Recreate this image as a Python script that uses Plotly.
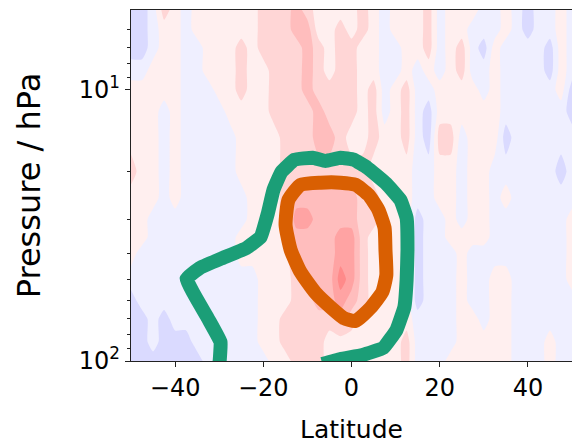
import math
import plotly.graph_objects as go

# ---------------- data ----------------
# latitude grid of the shaded field (degrees)
lats = [-50, -47.5, -45, -42.5, -40, -37.5, -35, -32.5, -30, -27.5, -25, -22.5,
        -20, -17.5, -15, -12.5, -10, -7.5, -5, -2.5, 0, 2.5, 5, 7.5, 10, 12.5,
        15, 17.5, 20, 22.5, 25, 27.5, 30, 32.5, 35, 37.5, 40, 42.5, 45, 47.5, 50]
# pressure grid (hPa), top to bottom
pressures = [5.08, 6, 7, 8.5, 10, 12, 15, 20, 25, 30, 35, 40, 50, 60, 70, 85, 100]

# shading class at each grid point, one string per latitude (top -> bottom)
code_values = {"B": -1.5, "b": -0.5, "p": 0.5, "2": 1.5, "3": 2.5, "4": 3.5, "5": 4.5}
profiles = [
    "BBBbppp2ppppbBBBB",  # -50
    "BBBbpppppppbbbBBB",  # -47.5
    "bbbppppppbbbbbbbB",  # -45
    "2ppppbbbbbbbbbBBB",  # -42.5
    "pppppppppbbbbbbBB",  # -40
    "bbbbbbbbbbbbbbbBB",  # -37.5
    "ppbbbbbbbbbbbbbbB",  # -35
    "ppppbbbbbbbbbbbbb",  # -32.5
    "pppppbbbbbbbbbbbb",  # -30
    "ppppppbbbbbbbbbbb",  # -27.5
    "pp222pppbbppbbbbb",  # -25
    "ppppppppppppbbbbb",  # -22.5
    "222pppppppppppppb",  # -20
    "222222ppppppppppp",  # -17.5
    "2222222222pppp22p",  # -15
    "33222222343322222",  # -12.5
    "23333222343332222",  # -10
    "pp222332333333222",  # -7.5
    "pppp22323333332pp",  # -5
    "p22222223344543pp",  # -2.5
    "pp2222p23344432pp",  # 0
    "22ppppp2222222ppp",  # 2.5
    "pppp222p22ppppppp",  # 5
    "bbbbbbppppppppppp",  # 7.5
    "ppbbppppppppppppp",  # 10
    "pppp222pppppppp22",  # 12.5
    "pppbbbbbbBBBBBbbb",  # 15
    "222pbBBbbbbbbbbbb",  # 17.5
    "bbbbpp2ppbbbbbbbb",  # 20
    "pppppp2ppppbbbbbp",  # 22.5
    "pp22ppbbbbppppppp",  # 25
    "pbbbpppppppbbbppp",  # 27.5
    "bbBbbppppppbbbbpp",  # 30
    "bbpppppbbbbbppppp",  # 32.5
    "ppbbbbBbpbbbppppp",  # 35
    "bbbbbbbbbbbbbbbbb",  # 37.5
    "BBbbbbbbbbbbbbbbb",  # 40
    "bbbbbbbbbbbbbbbbb",  # 42.5
    "bbBBbbbbbbbbbbbpp",  # 45
    "pppppbbBbbbbbbbbb",  # 47.5
    "bbbbBBbbbppppbbbb",  # 50
]

# outer (green) contour path
green_lat = [-30.2, -29.9, -29.7, -32.6, -37.4, -34.4, -29.2, -23.8, -20.6, -19.0,
             -17.7, -15.9, -12.9, -8.8, -5.9, -2.5, 0.5, 3.6, 7.9, 11.1, 12.5,
             12.7, 12.5, 12.0, 10.2, 7.2, 2.5, -2.5, -6.6]
green_p = [106, 100, 85.1, 69.4, 49.8, 45.4, 41.7, 38.3, 34.9, 28.7,
           23.4, 20.1, 18.1, 17.8, 18.3, 17.8, 18.1, 19.4, 22.2, 25.5, 29.7,
           38.9, 50.2, 63.2, 76.8, 89.5, 95.0, 98.3, 102.6]

# inner (orange) contour path
orange_lat = [-11.55, -7.0, -2.5, 0.9, 3.85, 6.1, 7.5, 7.7, 7.9, 7.0, 4.3, 0.9,
              -1.8, -4.3, -8.15, -11.55, -13.8, -14.95, -14.3, -11.55]
orange_p = [22.4, 22.0, 22.0, 22.4, 24.4, 27.7, 32.3, 38.9, 48.2, 55.6, 63.7, 71.2,
            69.4, 64.3, 56.1, 47.0, 38.9, 31.5, 25.5, 22.4]

x_ticks = [-40, -20, 0, 20, 40]
x_ticktext = ["\u221240", "\u221220", "0", "20", "40"]
y_ticks = [10, 100]
y_ticktext = ["10<sup>1</sup>", "10<sup>2</sup>"]
y_minor = [6, 7, 8, 9, 20, 30, 40, 50, 60, 70, 80, 90]

# ---------------- figure ----------------
z = [[code_values[profiles[i][j]] for i in range(len(lats))] for j in range(len(pressures))]

band_colors = ["#dadaff", "#efefff", "#ffefef", "#ffd6d6", "#ffbdbd", "#ffa3a3", "#ff8a8a"]
n = len(band_colors)
cscale = []
for k, c in enumerate(band_colors):
    lo = max(0.0, (k - 0.5) / (n - 1))
    hi = min(1.0, (k + 0.5) / (n - 1))
    cscale.append([lo, c])
    cscale.append([hi, c])

FONT = "DejaVu Sans"
fig = go.Figure()
fig.add_trace(go.Contour(
    x=lats, y=pressures, z=z,
    colorscale=cscale, showscale=False,
    contours=dict(start=-1, end=4, size=1, coloring="fill", showlines=False),
    line=dict(width=0, smoothing=0.6),
    hoverinfo="skip",
))
fig.add_trace(go.Scatter(x=green_lat, y=green_p, mode="lines",
                         line=dict(color="#1b9e77", width=14, shape="spline", smoothing=0.3),
                         hoverinfo="skip", showlegend=False))
fig.add_trace(go.Scatter(x=orange_lat, y=orange_p, mode="lines",
                         line=dict(color="#d95f02", width=14, shape="spline", smoothing=0.5),
                         hoverinfo="skip", showlegend=False))

fig.update_layout(
    width=572, height=444,
    margin=dict(l=131, r=0, t=10, b=83),
    paper_bgcolor="white", plot_bgcolor="white",
    showlegend=False,
    font=dict(family=FONT, color="#000000"),
    xaxis=dict(
        range=[-50, 50], tickmode="array", tickvals=x_ticks, ticktext=x_ticktext,
        ticks="outside", ticklen=5, tickwidth=1.2, tickcolor="#222222",
        showline=True, linecolor="#222222", linewidth=1.3, mirror=True,
        showgrid=False, zeroline=False,
        tickfont=dict(family=FONT, size=24, color="#000000"),
        title=dict(text="Latitude", font=dict(family=FONT, size=25, color="#000000"), standoff=22),
        automargin=False,
    ),
    yaxis=dict(
        type="log", range=[2, math.log10(5.08)],
        tickmode="array", tickvals=y_ticks, ticktext=y_ticktext,
        ticks="outside", ticklen=5, tickwidth=1.2, tickcolor="#222222",
        minor=dict(tickvals=y_minor, ticks="outside", ticklen=3, tickwidth=1, tickcolor="#222222"),
        showline=True, linecolor="#222222", linewidth=1.3,
        showgrid=False, zeroline=False,
        tickfont=dict(family=FONT, size=24, color="#000000"),
        title=dict(text="Pressure / hPa", font=dict(family=FONT, size=32, color="#000000"), standoff=28),
        automargin=False,
    ),
)

fig.write_html("out.html",
               config={"displayModeBar": False},
               post_script="document.body.style.margin='0';document.body.style.overflow='hidden';")
